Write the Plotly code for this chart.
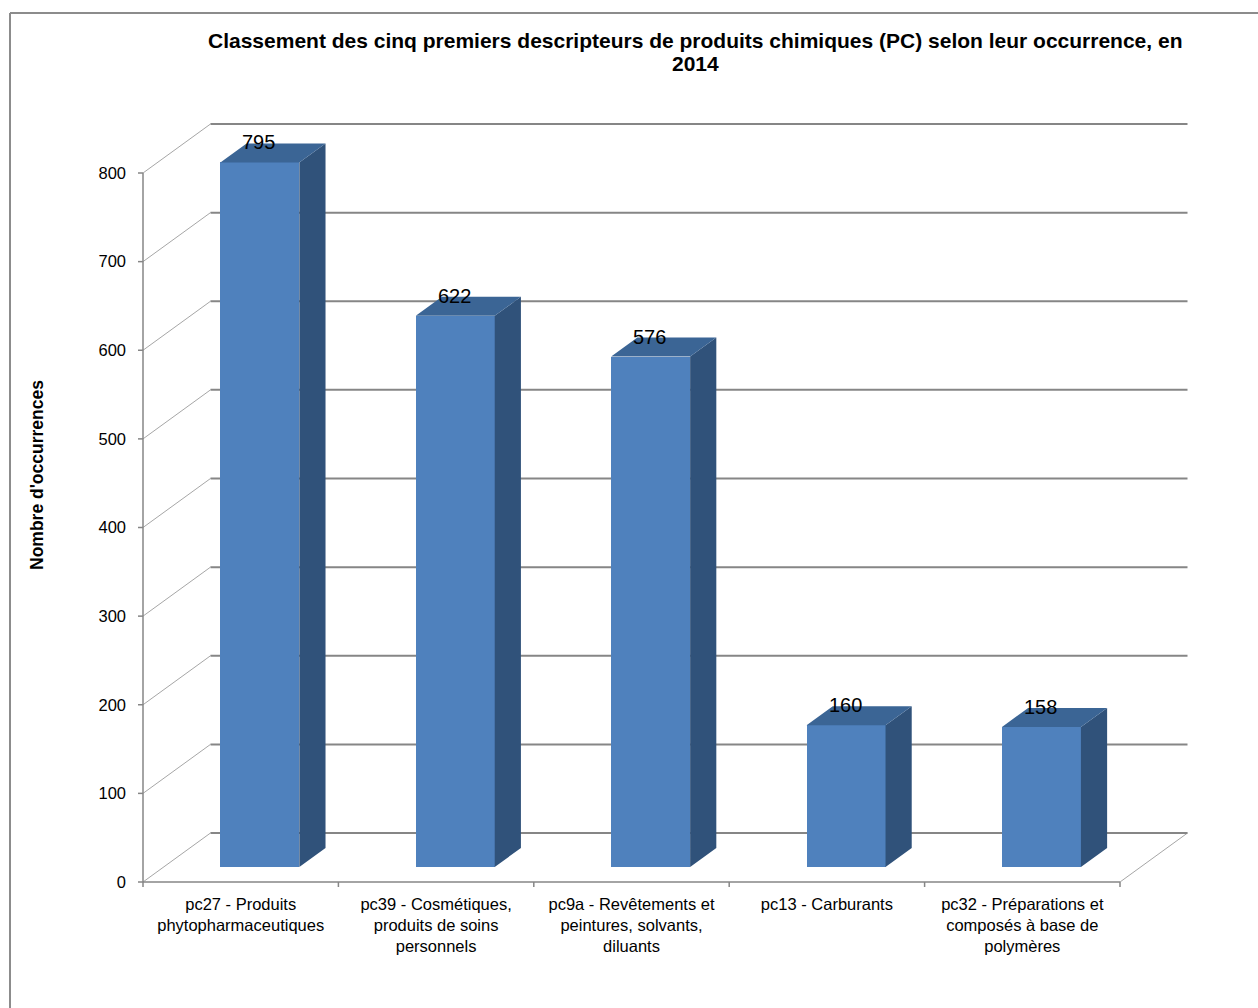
import plotly.graph_objects as go

# ---- data ----
categories = [
    "pc27 - Produits<br>phytopharmaceutiques",
    "pc39 - Cosmétiques,<br>produits de soins<br>personnels",
    "pc9a - Revêtements et<br>peintures, solvants,<br>diluants",
    "pc13 - Carburants",
    "pc32 - Préparations et<br>composés à base de<br>polymères",
]
values = [795, 622, 576, 160, 158]
y_ticks = [0, 100, 200, 300, 400, 500, 600, 700, 800]
title_lines = ["Classement des cinq premiers descripteurs de produits chimiques (PC) selon leur occurrence, en",
               "2014"]
y_title = "Nombre d'occurrences"

# ---- geometry / style ----
W, H = 1258, 1008
FONT = "Liberation Sans, Arial, sans-serif"
PX_X = 195.4          # px per category
PX_Y = 0.88625        # px per value unit
DX = 67.5 / PX_X      # depth offset (x, category units)
DY = 49.0 / PX_Y      # depth offset (y, value units)
F1, F2 = 0.306, 0.694 # bar depth fractions
BW = 0.404            # bar width
PAD = 10
ML, MR, MT, MB = 143 - PAD, W - (1188 + PAD), 124 - PAD, H - (882 + PAD)
n = len(values)
x0 = -0.5 - PAD / PX_X
x1 = x0 + (W - ML - MR) / PX_X
y0 = -PAD / PX_Y
y1 = y0 + (H - MT - MB) / PX_Y
top_val = y_ticks[-1]

GRID = "#868686"
DIAG = "#A6A6A6"
FRONT = "#4F81BD"
SIDE = "#30527A"
TOP = "#3B6595"

fig = go.Figure()

def seg_trace(xs, ys, color, width):
    fig.add_trace(go.Scatter(x=xs, y=ys, mode="lines", hoverinfo="skip",
                             line=dict(color=color, width=width), showlegend=False))

# back wall gridlines + left wall diagonals
gx, gy, dx_, dy_ = [], [], [], []
for t in y_ticks:
    gx += [-0.5 + DX, n - 0.5 + DX, None]
    gy += [t + DY, t + DY, None]
    dx_ += [-0.5, -0.5 + DX, None]
    dy_ += [t, t + DY, None]
# floor right diagonal
dx_ += [n - 0.5, n - 0.5 + DX, None]
dy_ += [0, DY, None]
seg_trace(dx_, dy_, DIAG, 1)
seg_trace(gx, gy, GRID, 2)

# front axis lines and tick marks
tl_x = 5 / PX_X
tl_y = 5 / PX_Y
ax, ay = [-0.5, -0.5, None, -0.5, n - 0.5, None], [0, top_val, None, 0, 0, None]
for t in y_ticks:
    ax += [-0.5 - tl_x, -0.5, None]
    ay += [t, t, None]
for k in range(n + 1):
    ax += [k - 0.5, k - 0.5, None]
    ay += [0, -tl_y, None]
seg_trace(ax, ay, GRID, 1.5)

# bars (on overlaying axes so they sit above the back wall)
xc = [i + F1 * DX - 1.5 / PX_X for i in range(n)]
fig.add_trace(go.Bar(x=xc, y=values, base=F1 * DY, width=BW,
                     marker=dict(color=FRONT, line=dict(width=0)),
                     xaxis="x2", yaxis="y2",
                     hoverinfo="skip", showlegend=False))

ddx = (F2 - F1) * DX
ddy = (F2 - F1) * DY
b1 = F1 * DY
sx, sy, tx, ty = [], [], [], []
for i, v in enumerate(values):
    xl = xc[i] - BW / 2
    xr = xc[i] + BW / 2
    sx += [xr, xr + ddx, xr + ddx, xr, xr, None]
    sy += [b1, b1 + ddy, b1 + v + ddy, b1 + v, b1, None]
    tx += [xl, xr, xr + ddx, xl + ddx, xl, None]
    ty += [b1 + v, b1 + v, b1 + v + ddy, b1 + v + ddy, b1 + v, None]
fig.add_trace(go.Scatter(x=sx, y=sy, mode="lines", fill="toself", fillcolor=SIDE,
                         line=dict(width=0, color=SIDE), xaxis="x2", yaxis="y2",
                         hoverinfo="skip", showlegend=False))
fig.add_trace(go.Scatter(x=tx, y=ty, mode="lines", fill="toself", fillcolor=TOP,
                         line=dict(width=0, color=TOP), xaxis="x2", yaxis="y2",
                         hoverinfo="skip", showlegend=False))

# data labels
annotations = []
for i, v in enumerate(values):
    annotations.append(dict(x=xc[i], y=b1 + v, text=str(v), showarrow=False,
                            xanchor="center", yanchor="middle", yshift=20, xshift=-1,
                            font=dict(family=FONT, size=20, color="black")))

def paper_x(px):
    return (px - ML) / (W - ML - MR)

def paper_y(py):
    return (H - MB - py) / (H - MT - MB)

annotations.append(dict(xref="paper", yref="paper", x=paper_x(37), y=paper_y(475),
                        text="<b>" + y_title + "</b>", textangle=-90, showarrow=False,
                        xanchor="center", yanchor="middle",
                        font=dict(family=FONT, size=17.5, color="black")))

# title (two lines, tight Excel-like spacing)
for k, line in enumerate(title_lines):
    annotations.append(dict(xref="paper", yref="paper", x=paper_x(695), y=paper_y(40 + 24 * k),
                            text="<b>" + line + "</b>", showarrow=False,
                            xanchor="center", yanchor="middle",
                            font=dict(family=FONT, size=21, color="black")))

shapes = [
    dict(type="line", xref="paper", yref="paper", x0=paper_x(10), y0=paper_y(13),
         x1=paper_x(W + 5), y1=paper_y(13), line=dict(color="#8C8C8C", width=2)),
    dict(type="line", xref="paper", yref="paper", x0=paper_x(10), y0=paper_y(13),
         x1=paper_x(10), y1=paper_y(H + 5), line=dict(color="#8C8C8C", width=2)),
]

fig.update_layout(
    width=W, height=H,
    margin=dict(l=ML, r=MR, t=MT, b=MB, autoexpand=False),
    paper_bgcolor="white", plot_bgcolor="white",
    xaxis=dict(range=[x0, x1], tickvals=list(range(n)), ticktext=categories,
               showgrid=False, zeroline=False, showline=False, ticks="",
               tickfont=dict(family=FONT, size=16.5, color="black"),
               ticklabelstandoff=0),
    yaxis=dict(range=[y0, y1], tickvals=y_ticks, ticktext=[str(t) for t in y_ticks],
               showgrid=False, zeroline=False, showline=False, ticks="",
               tickfont=dict(family=FONT, size=16.5, color="black"),
               ticklabelstandoff=6),
    xaxis2=dict(range=[x0, x1], overlaying="x", visible=False),
    yaxis2=dict(range=[y0, y1], overlaying="y", visible=False),
    annotations=annotations,
    shapes=shapes,
    bargap=0,
)

fig.write_html("out.html")
